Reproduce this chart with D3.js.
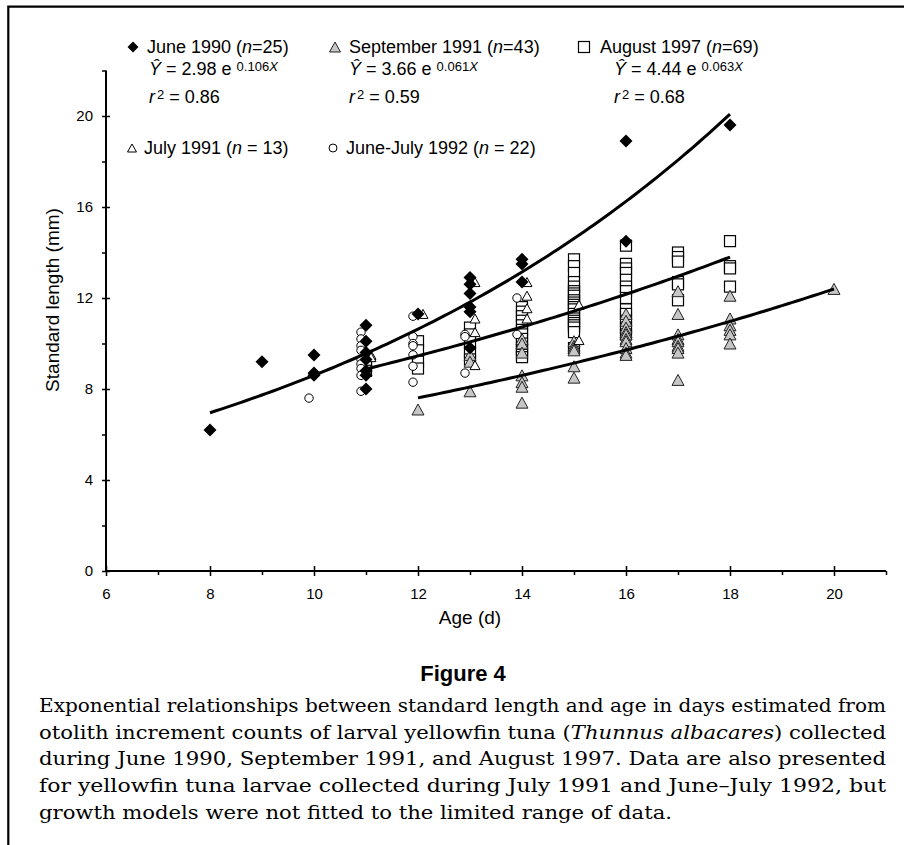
<!DOCTYPE html>
<html><head><meta charset="utf-8">
<script src="https://cdn.jsdelivr.net/npm/d3@7"></script>
<style>
body{margin:0;background:#fff;}
svg{display:block;}
text{font-family:"Liberation Sans",Arial,sans-serif;fill:#000;}
.cap{font-family:"DejaVu Serif",serif;font-size:18.6px;}
</style></head>
<body>
<svg id="chart" width="904" height="845"></svg>
<script>
// ---------------- data ----------------
const jun90Age = [8,9,10,10,10,11,11,11,11,11,11,11,12,13,13,13,13,13,13,14,14,14,16,16,18];
const jun90SL  = [6.2,9.2,9.5,8.7,8.6,10.8,10.1,9.6,9.3,8.8,8.6,8.0,11.3,12.9,12.6,12.2,11.6,11.4,9.8,13.7,13.5,12.7,18.9,14.5,19.6];

const sep91Age = [12,13,13,13,14,14,14,14,14,14,14,15,15,15,15,15,15,16,16,16,16,16,16,16,16,16,16,17,17,17,17,17,17,17,17,17,18,18,18,18,18,18,20];
const sep91SL  = [7.1,9.5,9.2,7.9,10.2,10.0,9.6,8.6,8.3,8.1,7.4,10.1,9.9,9.8,9.7,9.0,8.5,11.3,11.0,10.7,10.5,10.4,10.2,10.1,9.8,9.6,9.5,12.3,11.3,10.4,10.2,10.1,9.9,9.8,9.6,8.4,12.1,11.1,10.8,10.6,10.4,10.0,12.4];

const aug97Age = [11,11,11,12,12,12,12,13,13,13,13,13,
  14,14,14,14,14,14,14,14,14,14,14,14,14,
  15,15,15,15,15,15,15,15,15,15,15,15,15,15,15,15,15,15,15,15,15,
  16,16,16,16,16,16,16,16,16,16,16,16,16,
  17,17,17,17,17,17,18,18,18,18];
const aug97SL  = [9.2,9.0,8.8,10.1,9.7,9.2,8.9,10.7,10.4,10.1,9.6,9.3,
  11.6,11.4,11.2,11.0,10.8,10.6,10.4,10.2,10.0,9.8,9.7,9.5,9.4,
  13.7,13.4,13.1,12.7,12.5,12.3,12.2,12.1,11.9,11.8,11.7,11.6,11.5,11.3,11.1,11.0,10.9,10.8,10.7,10.5,9.8,
  14.3,13.5,13.3,13.1,12.8,12.5,12.3,12.0,11.5,11.3,11.0,10.7,10.4,
  14.0,13.8,13.6,12.7,12.6,11.9,14.5,13.4,13.3,12.5];

const jul91Age = [11,11,12,13,13,13,13,14,14,14,14,15,15];
const jul91SL  = [9.5,9.4,11.3,12.7,11.1,10.5,9.05,12.7,12.1,11.55,11.1,11.7,10.15];

const jj92Age = [10,11,11,11,11,11,11,11,11,11,12,12,12,12,12,12,12,13,13,13,14,14];
const jj92SL  = [7.6,10.5,10.2,9.9,9.7,9.3,9.1,8.9,8.6,7.9,11.2,10.3,10.0,9.9,9.5,9.0,8.3,10.4,10.3,8.7,12.0,10.4];

// fitted exponential models  SL = a * exp(b * age)
const fitNames = ["June 1990","September 1991","August 1997"];
const fitA = [2.98, 3.66, 4.44];
const fitB = [0.106, 0.061, 0.063];
const fitFrom = [8, 12, 11];
const fitTo = [18, 20, 18];
const fitR2 = ["0.86","0.59","0.68"];
const fitN = [25, 43, 69];

const xTicks = [6,8,10,12,14,16,18,20];
const xMinor = [7,9,11,13,15,17,19,21];
const yTicks = [0,4,8,12,16,20];
const yMinor = [2,6,10,14,18,22];

const captionLines = [
  [["Exponential relationships between standard length and age in days estimated from", false]],
  [["otolith increment counts of larval yellowfin tuna (", false],["Thunnus albacares", true],[") collected", false]],
  [["during June 1990, September 1991, and August 1997. Data are also presented", false]],
  [["for yellowfin tuna larvae collected during July 1991 and June\u2013July 1992, but", false]],
  [["growth models were not fitted to the limited range of data.", false]]
];

// ---------------- drawing ----------------
const svg = d3.select("#chart");
const x = d3.scaleLinear().domain([6,21]).range([106,886]);
const y = d3.scaleLinear().domain([0,22]).range([571,70.5]);

// frame
svg.append("path").attr("d","M8.3,845V6.7H904").attr("fill","none").attr("stroke","#000").attr("stroke-width",2.2);

// axes
const gx = svg.append("g").attr("transform",`translate(0,${y(0)})`)
  .call(d3.axisBottom(x).tickValues(xTicks).tickFormat(d3.format("d")).tickSizeOuter(0).tickSize(5));
gx.select(".domain").attr("stroke-width",2).attr("d",`M${x(6)},0H${x(21)}`);
gx.selectAll(".tick line").attr("y1",-5).attr("y2",5).attr("stroke-width",1.5);
gx.selectAll(".tick text").attr("y",17).attr("font-size",15).attr("font-family","Liberation Sans");
const gxm = svg.append("g").attr("transform",`translate(0,${y(0)})`)
  .call(d3.axisBottom(x).tickValues(xMinor).tickFormat("").tickSizeOuter(0).tickSize(4));
gxm.select(".domain").remove();
gxm.selectAll(".tick line").attr("stroke-width",1.5);

const gy = svg.append("g").attr("transform",`translate(${x(6)},0)`)
  .call(d3.axisLeft(y).tickValues(yTicks).tickFormat(d3.format("d")).tickSizeOuter(0).tickSize(4));
gy.select(".domain").attr("stroke-width",2).attr("d",`M0,${y(0)}V${y(22)}`);
gy.selectAll(".tick line").attr("x1",-4).attr("x2",4).attr("stroke-width",1.5);
gy.selectAll(".tick text").attr("x",-13).attr("font-size",15).attr("font-family","Liberation Sans");
const gym = svg.append("g").attr("transform",`translate(${x(6)},0)`)
  .call(d3.axisLeft(y).tickValues(yMinor).tickFormat("").tickSizeOuter(0).tickSize(4));
gym.select(".domain").remove();
gym.selectAll(".tick line").attr("stroke-width",1.5);

// axis titles
svg.append("text").attr("x",470).attr("y",624).attr("text-anchor","middle").attr("font-size",19).text("Age (d)");
svg.append("text").attr("transform","translate(59,300) rotate(-90)").attr("text-anchor","middle").attr("font-size",19).text("Standard length (mm)");

// marker shapes
const tri = (w,h)=>`M0,${-h/2}L${w/2},${h/2}L${-w/2},${h/2}Z`;
const diamond = s=>`M0,${-s}L${s},0L0,${s}L${-s},0Z`;

function pts(ages, sls){ return ages.map((a,i)=>({a, v:sls[i]})); }

// squares - August 1997
svg.append("g").selectAll("rect").data(pts(aug97Age,aug97SL)).join("rect")
  .attr("x",d=>x(d.a)-5.5).attr("y",d=>y(d.v)-5.5).attr("width",11).attr("height",11)
  .attr("fill","#fff").attr("stroke","#000").attr("stroke-width",1.2);
// grey triangles - September 1991
svg.append("g").selectAll("path").data(pts(sep91Age,sep91SL)).join("path")
  .attr("transform",d=>`translate(${x(d.a)},${y(d.v)})`).attr("d",tri(12,11))
  .attr("fill","#c6c6c6").attr("stroke","#222").attr("stroke-width",1);
// white triangles - July 1991
svg.append("g").selectAll("path").data(pts(jul91Age,jul91SL)).join("path")
  .attr("transform",d=>`translate(${x(d.a)+5},${y(d.v)})`).attr("d",tri(10,9))
  .attr("fill","#fff").attr("stroke","#000").attr("stroke-width",1);
// circles - June-July 1992
svg.append("g").selectAll("circle").data(pts(jj92Age,jj92SL)).join("circle")
  .attr("cx",d=>x(d.a)-5).attr("cy",d=>y(d.v)).attr("r",4.2)
  .attr("fill","#fff").attr("stroke","#000").attr("stroke-width",1);
// diamonds - June 1990
svg.append("g").selectAll("path").data(pts(jun90Age,jun90SL)).join("path")
  .attr("transform",d=>`translate(${x(d.a)},${y(d.v)})`).attr("d",diamond(6.5))
  .attr("fill","#000");

// fitted curves
const line = d3.line().x(d=>x(d[0])).y(d=>y(d[1])).curve(d3.curveLinear);
fitA.forEach((a,i)=>{
  const xs = d3.range(fitFrom[i], fitTo[i]+0.001, 0.1);
  svg.append("path").datum(xs.map(t=>[t, a*Math.exp(fitB[i]*t)]))
    .attr("d",line).attr("fill","none").attr("stroke","#000").attr("stroke-width",3);
});

// legend
const lg = svg.append("g").attr("font-size",18);
const legTextX = [147, 349, 600];
const legEqX = [149, 349, 614];
lg.append("path").attr("transform","translate(133,47)").attr("d",diamond(5.5)).attr("fill","#000");
lg.append("path").attr("transform","translate(335,47)").attr("d",tri(11,10)).attr("fill","#c6c6c6").attr("stroke","#222").attr("stroke-width",1);
lg.append("rect").attr("x",584-5.5).attr("y",47-5.5).attr("width",11).attr("height",11).attr("fill","#fff").attr("stroke","#000").attr("stroke-width",1.2);
lg.append("path").attr("transform","translate(132,148)").attr("d",tri(9,8)).attr("fill","#fff").attr("stroke","#000").attr("stroke-width",1);
lg.append("circle").attr("cx",333).attr("cy",148).attr("r",4).attr("fill","#fff").attr("stroke","#000").attr("stroke-width",1);

fitNames.forEach((nm,i)=>{
  const t = lg.append("text").attr("x",legTextX[i]).attr("y",53);
  t.append("tspan").text(nm+" (");
  t.append("tspan").attr("font-style","italic").text("n");
  t.append("tspan").text("="+fitN[i]+")");
  const e = lg.append("text").attr("x",legEqX[i]).attr("y",75);
  e.append("tspan").attr("font-style","italic").text("\u0176");
  e.append("tspan").text(" = "+fitA[i].toFixed(2)+" e ");
  e.append("tspan").attr("font-size",13).attr("dy",-4).text(String(fitB[i]));
  e.append("tspan").attr("font-size",13).attr("font-style","italic").text("X");
  const r = lg.append("text").attr("x",legEqX[i]).attr("y",103);
  r.append("tspan").attr("font-style","italic").text("r");
  r.append("tspan").attr("font-size",13).attr("dy",-4).attr("dx",2).text("2");
  r.append("tspan").attr("dy",4).text(" = "+fitR2[i]);
});
const extraNames = ["July 1991","June-July 1992"];
const extraN = [13, 22];
const extraX = [144, 346];
extraNames.forEach((nm,i)=>{
  const t = lg.append("text").attr("x",extraX[i]).attr("y",154);
  t.append("tspan").text(nm+" (");
  t.append("tspan").attr("font-style","italic").text("n");
  t.append("tspan").text(" = "+extraN[i]+")");
});

// figure caption
svg.append("text").attr("x",463).attr("y",681).attr("text-anchor","middle")
  .attr("font-size",22).attr("font-weight","bold").text("Figure 4");
const capY = [712, 739, 765, 792, 819];
const capW = [847, 847, 847, 847, 633];
captionLines.forEach((parts,i)=>{
  const t = svg.append("text").attr("class","cap").attr("x",39).attr("y",capY[i])
    .attr("textLength",capW[i]).attr("lengthAdjust","spacingAndGlyphs");
  parts.forEach(p=>t.append("tspan").attr("font-style",p[1]?"italic":null).text(p[0]));
});
</script>
</body></html>
